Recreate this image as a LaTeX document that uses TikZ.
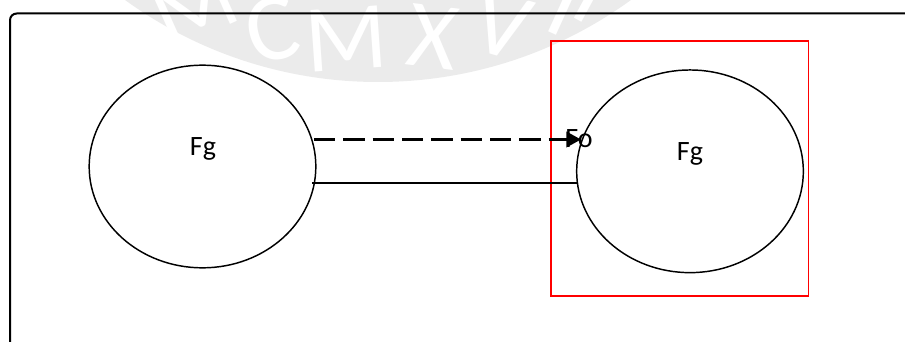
\documentclass[tikz,border=0pt]{standalone}
\usepackage{fontspec}
\setmainfont{Carlito}
\usetikzlibrary{arrows.meta,shapes.geometric}
\tikzset{
  mass/.style = {draw, ellipse, line width=1.1pt, minimum width=170pt, minimum height=152pt, inner sep=0pt},
  massname/.style = {font=\fontsize{21}{24}\selectfont, inner sep=0pt, anchor=base},
  sealletter/.style = {font=\fontsize{72}{72}\selectfont, text=white, inner sep=0pt, anchor=base},
}
\definecolor{sealgray}{RGB}{235,235,235}
\begin{document}
\begin{tikzpicture}[x=0.75pt, y=-0.75pt]
        \useasboundingbox (0,0) rectangle (905,342);

        % seal behind everything
        \clip (0,0) rectangle (905,342);
        \fill[sealgray] (378,-349) circle[radius=431];
        \foreach \ang/\ltr in {-24/M, -13.6/C, -4/M, 7/X, 16/V, 24.5/I, 28.4/I} {
            \pgfmathsetmacro{\px}{378+420*sin(\ang)}
            \pgfmathsetmacro{\py}{-349+420*cos(\ang)}
            \node[sealletter, rotate=-\ang] (seal\ang) at (\px,\py) {\ltr};
        }

        % frame
        \draw[line width=1.5pt, rounded corners=5pt] (10,342) -- (10,13.5) -- (905,13.5);

        \node[mass] (left) at (202.5,166.5) {};
        \node[mass] (right) at (690,171.3) {};
        \node[massname] (fgl) at (203,155) {Fg};
        \node[massname] (fgr) at (690,160) {Fg};
        \node[massname] (fo) at (579,147) {Fo};

        \draw[red, line width=1.1pt] (551,41) rectangle (808.7,296);

        \coordinate (dashstart) at (314,139.5);
        \coordinate (dashend) at (581,139.5);
        \coordinate (barstart) at (312,183);
        \coordinate (barend) at (578,183);
        \draw[line width=2pt, dash pattern=on 16pt off 6pt, -{Triangle[length=11pt,width=11.5pt]}] (dashstart) -- (dashend);
        \draw[line width=1.2pt] (barstart) -- (barend);
\end{tikzpicture}
\end{document}
